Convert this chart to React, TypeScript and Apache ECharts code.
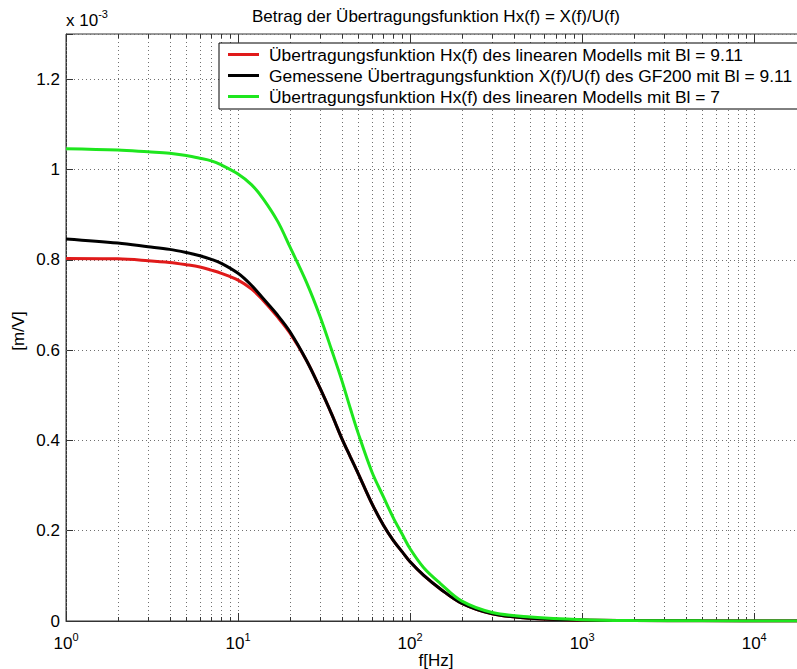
import React, { useEffect, useRef } from 'react';
import * as echarts from 'echarts';

// Frequencies in Hz
const freqs = [1, 2, 3, 4, 5, 6, 7, 8, 10, 12, 14, 17, 20, 25, 30, 35, 40, 45, 50, 60, 70, 80, 90, 100, 120, 150, 200, 300, 500, 1000, 2000, 5000, 20000];
// Magnitudes in units of 1e-3 m/V
const redVals = [0.803, 0.802, 0.798, 0.794, 0.789, 0.784, 0.777, 0.770, 0.755, 0.735, 0.710, 0.673, 0.638, 0.577, 0.515, 0.458, 0.405, 0.363, 0.326, 0.260, 0.212, 0.178, 0.153, 0.131, 0.101, 0.071, 0.039, 0.016, 0.006, 0.002, 0.001, 0.0003, 0];
const blackVals = [0.846, 0.837, 0.829, 0.823, 0.816, 0.809, 0.801, 0.792, 0.770, 0.743, 0.714, 0.677, 0.641, 0.577, 0.515, 0.458, 0.405, 0.363, 0.326, 0.260, 0.212, 0.178, 0.153, 0.131, 0.101, 0.071, 0.039, 0.016, 0.006, 0.002, 0.001, 0.0003, 0];
const greenVals = [1.046, 1.043, 1.039, 1.036, 1.031, 1.025, 1.019, 1.010, 0.990, 0.966, 0.935, 0.885, 0.829, 0.750, 0.674, 0.600, 0.534, 0.470, 0.415, 0.330, 0.275, 0.228, 0.192, 0.160, 0.118, 0.083, 0.044, 0.019, 0.009, 0.003, 0.001, 0.0003, 0];

const seriesNames = [
  'Übertragungsfunktion Hx(f) des linearen Modells mit Bl = 9.11',
  'Gemessene Übertragungsfunktion X(f)/U(f) des GF200 mit Bl = 9.11',
  'Übertragungsfunktion Hx(f) des linearen Modells mit Bl = 7',
];
const seriesColors = ['#e01a1a', '#000000', '#1ee61e'];

const decades = [1, 10, 100, 1000, 10000];
const yTickLabels = ['0', '0.2', '0.4', '0.6', '0.8', '1', '1.2'];

const titleText = 'Betrag der Übertragungsfunktion Hx(f) = X(f)/U(f)';
const xName = 'f[Hz]';
const yName = '[m/V]';

const FONT = '"Liberation Sans", Arial, Helvetica, sans-serif';

export default function App() {
  const ref = useRef<HTMLDivElement>(null);

  useEffect(() => {
    if (!ref.current) return;
    const chart = echarts.init(ref.current, undefined, { renderer: 'svg' });

    const tickData: number[][] = [];
    decades.forEach((d) => {
      for (let k = 1; k <= 9; k++) {
        const v = d * k;
        if (v > 20000) continue;
        tickData.push([v, k === 1 ? 8 : 4]);
      }
    });

    const mk = (i: number, vals: number[]) => ({
      name: seriesNames[i],
      type: 'line',
      data: freqs.map((f, j) => [f, vals[j]]),
      showSymbol: false,
      symbol: 'none',
      smooth: 0.35,
      lineStyle: { color: seriesColors[i], width: 3 },
      itemStyle: { color: seriesColors[i] },
      z: 3 + i,
    });

    chart.setOption({
      animation: false,
      backgroundColor: '#ffffff',
      textStyle: { fontFamily: FONT },
      grid: {
        left: 66,
        top: 34,
        right: 24,
        bottom: 48,
        show: true,
        borderColor: '#333',
        borderWidth: 1,
        backgroundColor: 'transparent',
      },
      legend: {
        data: seriesNames,
        orient: 'vertical',
        left: 219,
        top: 43,
        z: 200,
        zlevel: 1,
        icon: 'rect',
        itemWidth: 31,
        itemHeight: 3,
        itemGap: 0,
        padding: [1, 30, 2, 9],
        backgroundColor: '#ffffff',
        borderColor: '#000',
        borderWidth: 1,
        borderRadius: 0,
        selectedMode: false,
        textStyle: { fontSize: 17.4, color: '#000', fontFamily: FONT, lineHeight: 21, padding: [0, 0, 0, 5] },
      },
      xAxis: {
        type: 'log',
        logBase: 10,
        min: 1,
        max: 20000,
        axisLine: { show: true, lineStyle: { color: '#333' } },
        axisTick: { show: false },
        splitLine: { show: false },
        axisLabel: {
          margin: 10,
          showMaxLabel: false,
          formatter: (v: number) => {
            const l = Math.log10(v);
            const r = Math.round(l);
            if (Math.abs(l - r) > 1e-6) return '';
            return `{b|10}{s|${r}}`;
          },
          rich: {
            b: { fontSize: 17, fontFamily: FONT, color: '#000', lineHeight: 24 },
            s: { fontSize: 11, fontFamily: FONT, color: '#000', lineHeight: 12, verticalAlign: 'top' },
          },
        },
      },
      yAxis: {
        type: 'value',
        min: 0,
        max: 1.3,
        interval: 0.2,
        axisLine: { show: true, lineStyle: { color: '#333' } },
        axisTick: { show: true, inside: true, length: 7, lineStyle: { color: '#333' } },
        splitLine: { show: true, lineStyle: { type: [1, 3], color: '#707070', width: 1 } },
        axisLabel: {
          margin: 6,
          fontSize: 17,
          color: '#000',
          fontFamily: FONT,
          formatter: (v: number) => {
            const idx = Math.round(v / 0.2);
            if (Math.abs(v - idx * 0.2) > 1e-6) return '';
            return yTickLabels[idx] ?? '';
          },
        },
      },
      graphic: [
        {
          type: 'text',
          x: 436,
          y: 16,
          style: { text: titleText, font: `17px ${FONT}`, fill: '#000', textAlign: 'center', textVerticalAlign: 'middle' },
        },
        {
          type: 'text',
          x: 66,
          y: 8,
          style: {
            text: '{a|x 10}{s|-3}',
            fill: '#000',
            rich: {
              a: { fontSize: 17, fontFamily: FONT, lineHeight: 24 },
              s: { fontSize: 11, fontFamily: FONT, lineHeight: 12, verticalAlign: 'top' },
            },
          },
        },
        {
          type: 'text',
          x: 436,
          y: 660,
          style: { text: xName, font: `17px ${FONT}`, fill: '#000', textAlign: 'center', textVerticalAlign: 'middle' },
        },
        {
          type: 'text',
          x: 18,
          y: 331,
          rotation: Math.PI / 2,
          style: { text: yName, font: `17px ${FONT}`, fill: '#000', textAlign: 'center', textVerticalAlign: 'middle' },
        },
      ],
      series: [
        {
          type: 'custom',
          silent: true,
          z: 1,
          data: tickData,
          encode: { x: 0, y: 1 },
          renderItem: (params: any, api: any) => {
            const v = api.value(0);
            const len = api.value(1);
            const p = api.coord([v, 0]);
            const cs = params.coordSys;
            const x = Math.round(p[0]) + 0.5;
            const yb = cs.y + cs.height;
            const yt = cs.y;
            return {
              type: 'group',
              children: [
                { type: 'line', shape: { x1: x, y1: yt, x2: x, y2: yb }, style: { stroke: '#707070', lineWidth: 1, lineDash: [1, 3] } },
                { type: 'line', shape: { x1: x, y1: yb, x2: x, y2: yb - len }, style: { stroke: '#333', lineWidth: 1 } },
                { type: 'line', shape: { x1: x, y1: yt, x2: x, y2: yt + len }, style: { stroke: '#333', lineWidth: 1 } },
              ],
            };
          },
        },
        mk(0, redVals),
        mk(1, blackVals),
        mk(2, greenVals),
      ],
    } as any);

    return () => chart.dispose();
  }, []);

  return (
    <div style={{ position: 'fixed', left: 0, top: 0, width: 797, height: 669, overflow: 'hidden', background: '#fff' }}>
      <div ref={ref} style={{ width: 830, height: 669 }} />
    </div>
  );
}
